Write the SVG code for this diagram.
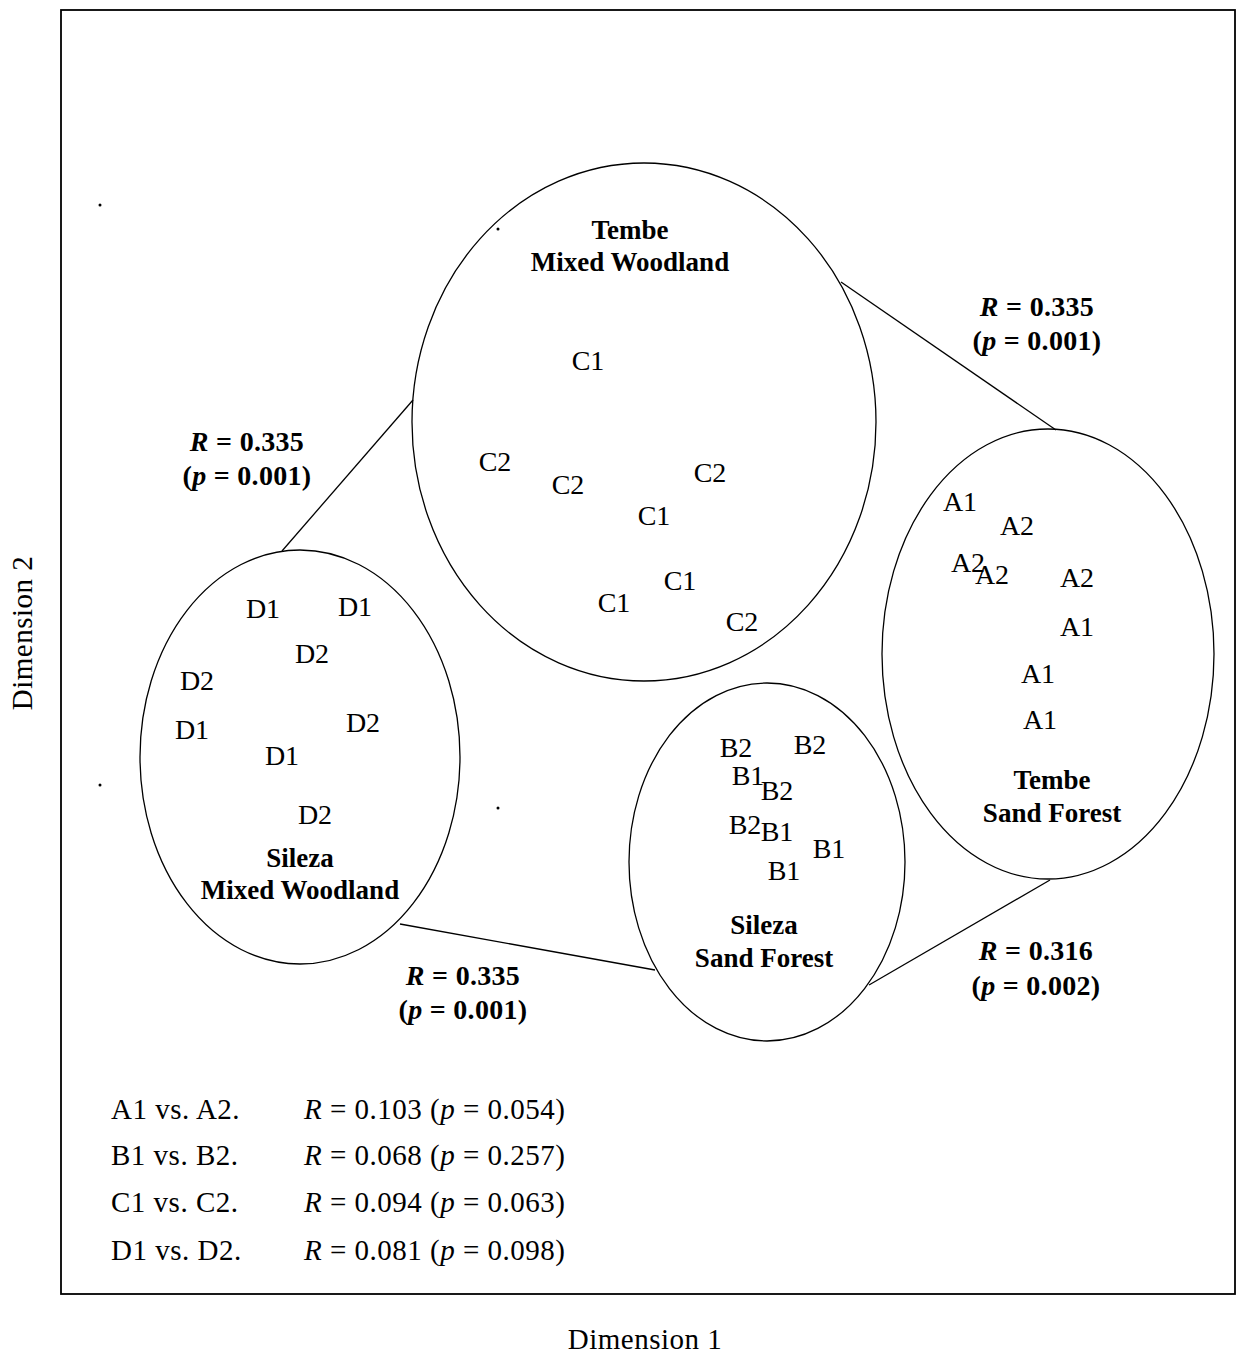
<svg xmlns="http://www.w3.org/2000/svg" width="1236" height="1355" viewBox="0 0 1236 1355">
<style>
text{font-family:"Liberation Serif","Times New Roman",serif;fill:#000}
.pt{font-size:28px;text-anchor:middle}
.lab{font-size:27px;font-weight:bold;text-anchor:middle}
.stat{font-size:28px;font-weight:bold;text-anchor:middle;letter-spacing:0.3px}
.leg{font-size:29px;letter-spacing:0.5px}
.ax{font-size:29px;text-anchor:middle;letter-spacing:0.5px}
.ell{fill:none;stroke:#000;stroke-width:1.3}
.con{stroke:#000;stroke-width:1.3;fill:none}
</style>
<rect x="0" y="0" width="1236" height="1355" fill="#fff"/>
<rect id="frame" x="61" y="10" width="1174" height="1284" fill="none" stroke="#000" stroke-width="1.8"/>
<g id="dots" fill="#000">
<circle cx="100" cy="205" r="1.5"/>
<circle cx="498" cy="229" r="1.5"/>
<circle cx="100" cy="785" r="1.5"/>
<circle cx="498" cy="808" r="1.5"/>
</g>
<g id="connectors">
<line class="con" x1="841" y1="282" x2="1056" y2="430"/>
<line class="con" x1="413" y1="400" x2="282" y2="551"/>
<line class="con" x1="400" y1="924" x2="655" y2="970"/>
<line class="con" x1="869" y1="985" x2="1050" y2="880"/>
<text class="stat" x="1037" y="316"><tspan font-style="italic">R</tspan> = 0.335</text>
<text class="stat" x="1037" y="350">(<tspan font-style="italic">p</tspan> = 0.001)</text>
<text class="stat" x="247" y="451"><tspan font-style="italic">R</tspan> = 0.335</text>
<text class="stat" x="247" y="485">(<tspan font-style="italic">p</tspan> = 0.001)</text>
<text class="stat" x="463" y="985"><tspan font-style="italic">R</tspan> = 0.335</text>
<text class="stat" x="463" y="1019">(<tspan font-style="italic">p</tspan> = 0.001)</text>
<text class="stat" x="1036" y="960"><tspan font-style="italic">R</tspan> = 0.316</text>
<text class="stat" x="1036" y="995">(<tspan font-style="italic">p</tspan> = 0.002)</text>
</g>
<g id="tembe-mixed-woodland">
<ellipse class="ell" cx="644" cy="422" rx="232" ry="259"/>
<text class="lab" x="630" y="239">Tembe</text>
<text class="lab" x="630" y="271">Mixed Woodland</text>
<text class="pt" x="588" y="370">C1</text>
<text class="pt" x="495" y="471">C2</text>
<text class="pt" x="568" y="494">C2</text>
<text class="pt" x="710" y="482">C2</text>
<text class="pt" x="654" y="525">C1</text>
<text class="pt" x="680" y="590">C1</text>
<text class="pt" x="614" y="612">C1</text>
<text class="pt" x="742" y="631">C2</text>
</g>
<g id="sileza-mixed-woodland">
<ellipse class="ell" cx="300" cy="757" rx="160" ry="207"/>
<text class="lab" x="300" y="867">Sileza</text>
<text class="lab" x="300" y="899">Mixed Woodland</text>
<text class="pt" x="263" y="618">D1</text>
<text class="pt" x="355" y="616">D1</text>
<text class="pt" x="312" y="663">D2</text>
<text class="pt" x="197" y="690">D2</text>
<text class="pt" x="192" y="739">D1</text>
<text class="pt" x="363" y="732">D2</text>
<text class="pt" x="282" y="765">D1</text>
<text class="pt" x="315" y="824">D2</text>
</g>
<g id="sileza-sand-forest">
<ellipse class="ell" cx="767" cy="862" rx="138" ry="179"/>
<text class="lab" x="764" y="934">Sileza</text>
<text class="lab" x="764" y="967">Sand Forest</text>
<text class="pt" x="736" y="757">B2</text>
<text class="pt" x="810" y="754">B2</text>
<text class="pt" x="748" y="785">B1</text>
<text class="pt" x="777" y="800">B2</text>
<text class="pt" x="745" y="834">B2</text>
<text class="pt" x="777" y="841">B1</text>
<text class="pt" x="829" y="858">B1</text>
<text class="pt" x="784" y="880">B1</text>
</g>
<g id="tembe-sand-forest">
<ellipse class="ell" cx="1048" cy="654" rx="166" ry="225"/>
<text class="lab" x="1052" y="789">Tembe</text>
<text class="lab" x="1052" y="822">Sand Forest</text>
<text class="pt" x="960" y="511">A1</text>
<text class="pt" x="1017" y="535">A2</text>
<text class="pt" x="968" y="572">A2</text>
<text class="pt" x="992" y="584">A2</text>
<text class="pt" x="1077" y="587">A2</text>
<text class="pt" x="1077" y="636">A1</text>
<text class="pt" x="1038" y="683">A1</text>
<text class="pt" x="1040" y="729">A1</text>
</g>
<g id="legend">
<text class="leg" x="111" y="1119">A1 vs. A2.</text>
<text class="leg" x="111" y="1165">B1 vs. B2.</text>
<text class="leg" x="111" y="1212">C1 vs. C2.</text>
<text class="leg" x="111" y="1260">D1 vs. D2.</text>
<text class="leg" x="304" y="1119"><tspan font-style="italic">R</tspan> = 0.103 (<tspan font-style="italic">p</tspan> = 0.054)</text>
<text class="leg" x="304" y="1165"><tspan font-style="italic">R</tspan> = 0.068 (<tspan font-style="italic">p</tspan> = 0.257)</text>
<text class="leg" x="304" y="1212"><tspan font-style="italic">R</tspan> = 0.094 (<tspan font-style="italic">p</tspan> = 0.063)</text>
<text class="leg" x="304" y="1260"><tspan font-style="italic">R</tspan> = 0.081 (<tspan font-style="italic">p</tspan> = 0.098)</text>
</g>
<g id="axes">
<text class="ax" x="645" y="1349">Dimension 1</text>
<text class="ax" x="0" y="0" transform="translate(32,633) rotate(-90)">Dimension 2</text>
</g>
</svg>
